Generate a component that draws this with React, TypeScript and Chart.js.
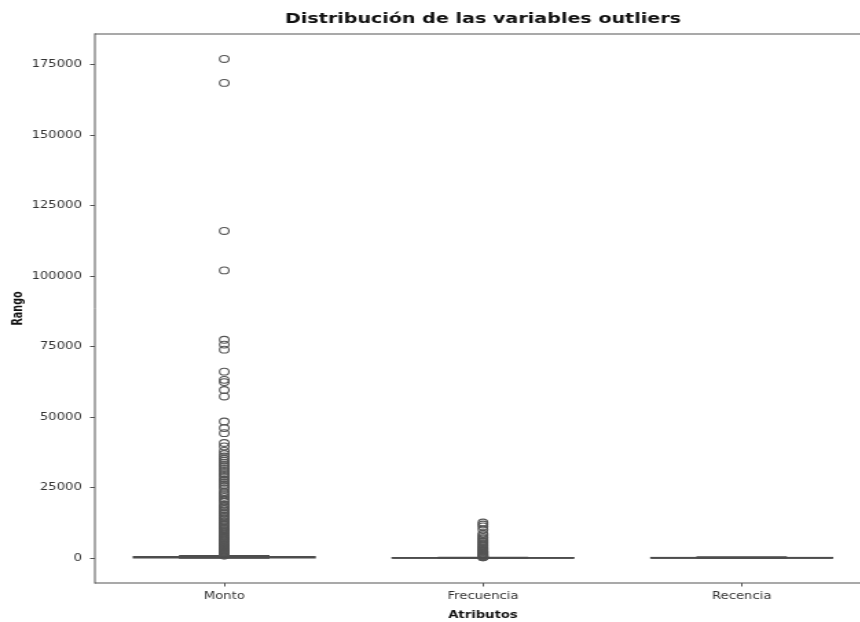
import React, { useEffect, useRef } from 'react';
import { Chart, registerables } from 'chart.js';

Chart.register(...registerables);

// ---- data ----
const categories = ['Monto', 'Frecuencia', 'Recencia'];
const boxQ1 = [100, 15, 17];
const boxMedian = [250, 40, 50];
const boxQ3 = [450, 95, 142];
const whiskerLow = [0, 1, 0];
const whiskerHigh = [800, 200, 373];

const montoOutliers = [
  177000, 168500, 116000, 102000, 77400, 75700, 73900, 66100, 63200, 62400, 59600, 57300,
  48400, 46100, 44300, 40800, 39600, 38000, 36900, 36000, 35200, 34500, 33800, 33000, 32400,
  31600, 30900, 30100, 29500, 28800, 28000, 27400, 26700, 26000, 25300, 24600, 23500, 23000,
  22300, 21700, 21000, 20400, 19900, 18900, 18500, 17900, 17300, 16800, 16200, 15700, 15100,
  14600, 14100, 13600, 13100, 12600, 12100, 11700, 11200, 10800, 10300, 9900, 9500, 9100,
  8700, 8300, 7900, 7600, 7200, 6900, 6500, 6200, 5900, 5600, 5300, 5000, 4700, 4400, 4200,
  3900, 3700, 3450, 3200, 3000, 2800, 2600, 2400, 2250, 2100, 1950, 1800, 1650, 1500, 1380,
  1250, 1150, 1000, 900,
];
const frecuenciaOutliers = [
  12600, 11900, 11200, 10100, 8600, 8100, 7500, 7000, 6600, 6100, 5700, 5300, 4900, 4500,
  4200, 3800, 3500, 3200, 2900, 2600, 2350, 2100, 1850, 1600, 1400, 1200, 1000, 850, 700,
  580, 470, 380, 300, 240,
];
const recenciaOutliers: number[] = [];

const yTicks = [0, 25000, 50000, 75000, 100000, 125000, 150000, 175000];
const yMin = -8850;
const yMax = 185850;

const chartTitle = 'Distribución de las variables outliers';
const xTitle = 'Atributos';
const yTitle = 'Rango';

// ---- styling ----
const FONT = 'DejaVu Sans';
const LINE = '#4d4d4d';
const BOX_FILL = '#5c5c5c';
const SPINE = '#555555';
const TEXT = '#333333';
const STRETCH = 1.375;
const CANVAS_W = 660;
const CANVAS_H = 622;

const boxPlugin = {
  id: 'boxPlot',
  beforeDatasetsDraw(chart: any) {
    const { ctx, scales } = chart;
    const x = scales.x;
    const y = scales.y;
    const step = x.getPixelForValue(1) - x.getPixelForValue(0);
    const half = step * 0.35;
    const capHalf = step * 0.175;
    ctx.save();
    ctx.strokeStyle = LINE;
    ctx.lineWidth = 1.5;
    categories.forEach((_, i) => {
      const cx = x.getPixelForValue(i);
      const yq1 = y.getPixelForValue(boxQ1[i]);
      const yq3 = y.getPixelForValue(boxQ3[i]);
      const ylo = y.getPixelForValue(whiskerLow[i]);
      const yhi = y.getPixelForValue(whiskerHigh[i]);
      ctx.beginPath();
      ctx.moveTo(cx, ylo);
      ctx.lineTo(cx, yq1);
      ctx.moveTo(cx, yq3);
      ctx.lineTo(cx, yhi);
      ctx.moveTo(cx - capHalf, ylo);
      ctx.lineTo(cx + capHalf, ylo);
      ctx.moveTo(cx - capHalf, yhi);
      ctx.lineTo(cx + capHalf, yhi);
      ctx.stroke();
      ctx.fillStyle = BOX_FILL;
      ctx.fillRect(cx - half, yq3, 2 * half, yq1 - yq3);
      ctx.strokeRect(cx - half, yq3, 2 * half, yq1 - yq3);
    });
    ctx.restore();
  },
  afterDatasetsDraw(chart: any) {
    const { ctx, scales, chartArea, width } = chart;
    const x = scales.x;
    const y = scales.y;
    const step = x.getPixelForValue(1) - x.getPixelForValue(0);
    const half = step * 0.35;
    ctx.save();
    ctx.strokeStyle = LINE;
    ctx.lineWidth = 1.5;
    categories.forEach((_, i) => {
      const cx = x.getPixelForValue(i);
      const ym = y.getPixelForValue(boxMedian[i]);
      ctx.beginPath();
      ctx.moveTo(cx - half, ym);
      ctx.lineTo(cx + half, ym);
      ctx.stroke();
    });
    // spines: top, bottom and left (the right one lies past the visible edge)
    ctx.strokeStyle = SPINE;
    ctx.lineWidth = 1.2;
    ctx.beginPath();
    ctx.moveTo(chartArea.left, chartArea.top);
    ctx.lineTo(width, chartArea.top);
    ctx.moveTo(chartArea.left, chartArea.bottom);
    ctx.lineTo(width, chartArea.bottom);
    ctx.stroke();
    ctx.lineWidth = 1;
    ctx.beginPath();
    ctx.moveTo(chartArea.left, chartArea.top - 0.6);
    ctx.lineTo(chartArea.left, chartArea.bottom + 0.6);
    ctx.stroke();
    ctx.restore();
  },
};

export default function App() {
  const canvasRef = useRef<HTMLCanvasElement | null>(null);

  useEffect(() => {
    if (!canvasRef.current) return;
    const outlierSets = [montoOutliers, frecuenciaOutliers, recenciaOutliers];
    const points: { x: string; y: number }[] = [];
    outlierSets.forEach((arr, i) => {
      arr.forEach((v) => points.push({ x: categories[i], y: v }));
    });

    const chart = new Chart(canvasRef.current, {
      type: 'scatter',
      data: {
        labels: categories,
        datasets: [
          {
            data: points as any,
            pointStyle: 'circle',
            pointRadius: 3.4,
            pointHoverRadius: 3.4,
            pointBorderWidth: 1.1,
            pointBorderColor: '#555555',
            pointBackgroundColor: 'rgba(0,0,0,0)',
          },
        ],
      },
      options: {
        responsive: false,
        animation: false,
        devicePixelRatio: 1,
        events: [],
        layout: { padding: { left: 0, right: CANVAS_W - 633.5, top: 0, bottom: 0 } },
        plugins: {
          legend: { display: false },
          tooltip: { enabled: false },
          title: {
            display: true,
            fullSize: false,
            text: chartTitle,
            color: '#111111',
            font: { family: FONT, size: 13.9, weight: 'bold' },
            padding: { top: 11.2, bottom: 6.1 },
          },
        },
        scales: {
          x: {
            type: 'category',
            labels: categories,
            offset: true,
            afterFit: (s: any) => {
              s.height = 39;
            },
            grid: {
              display: true,
              drawOnChartArea: false,
              drawTicks: true,
              tickLength: 3.5,
              offset: false,
              color: SPINE,
            },
            border: { display: false },
            ticks: {
              color: TEXT,
              font: { family: FONT, size: 9.6 },
              padding: 4.5,
            },
            title: {
              display: true,
              text: xTitle,
              color: '#111111',
              font: { family: FONT, size: 9.6, weight: 'bold' },
              padding: { top: 0, bottom: 0.7 },
            },
          },
          y: {
            type: 'linear',
            min: yMin,
            max: yMax,
            afterFit: (s: any) => {
              s.width = 69;
            },
            afterBuildTicks: (s: any) => {
              s.ticks = yTicks.map((v) => ({ value: v }));
            },
            grid: {
              display: true,
              drawOnChartArea: false,
              drawTicks: true,
              tickLength: 3.5,
              color: SPINE,
            },
            border: { display: false },
            ticks: {
              color: TEXT,
              font: { family: FONT, size: 9.6 },
              padding: 6,
              callback: (v: any) => String(v),
            },
            title: {
              display: true,
              text: yTitle,
              color: '#111111',
              font: { family: FONT, size: 9.6, weight: 'bold' },
              padding: { top: 7.3, bottom: 0 },
            },
          },
        },
      },
      plugins: [boxPlugin],
    } as any);

    return () => {
      chart.destroy();
    };
  }, []);

  return (
    <div
      style={{
        position: 'fixed',
        left: 0,
        top: 0,
        width: 860,
        height: 622,
        overflow: 'hidden',
        background: '#ffffff',
      }}
    >
      <canvas
        ref={canvasRef}
        width={CANVAS_W}
        height={CANVAS_H}
        style={{
          display: 'block',
          width: CANVAS_W,
          height: CANVAS_H,
          transform: `scaleX(${STRETCH})`,
          transformOrigin: '0 0',
        }}
      />
    </div>
  );
}
